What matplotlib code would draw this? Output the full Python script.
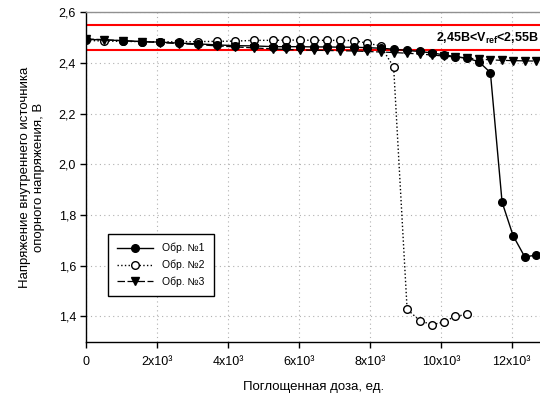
import matplotlib
matplotlib.use("Agg")
import matplotlib.pyplot as plt
from matplotlib.ticker import FixedLocator

plt.rcParams['font.family'] = ['Liberation Sans', 'DejaVu Sans']
plt.rcParams['mathtext.fontset'] = 'custom'
plt.rcParams['mathtext.rm'] = 'Liberation Sans'
plt.rcParams['mathtext.bf'] = 'Liberation Sans:bold'

# Dose grid (units)
dose = [0, 500, 1030, 1560, 2080, 2620, 3150, 3680, 4200, 4740, 5270, 5640,
        6040, 6410, 6790, 7160, 7540, 7920, 8300, 8670, 9050, 9410, 9760,
        10080, 10410, 10750, 11070, 11400, 11730, 12040, 12370, 12700]

# Sample 1 (no point at 500)
dose1 = [0, 1030, 1560, 2080, 2620, 3150, 3680, 4200, 4740, 5270, 5640,
         6040, 6410, 6790, 7160, 7540, 7920, 8300, 8670, 9050, 9410, 9760,
         10080, 10410, 10750, 11070, 11400, 11730, 12040, 12370, 12700]
v1 = [2.494, 2.489, 2.485, 2.483, 2.479, 2.476, 2.472, 2.469, 2.468, 2.465, 2.465,
      2.465, 2.464, 2.464, 2.463, 2.463, 2.461, 2.459, 2.455, 2.450, 2.446, 2.440,
      2.433, 2.426, 2.419, 2.406, 2.363, 1.851, 1.719, 1.635, 1.642]

# Sample 2
dose2 = [0, 500, 1030, 1560, 2080, 2620, 3150, 3680, 4200, 4740, 5270, 5640,
         6040, 6410, 6790, 7160, 7540, 7920, 8300, 8670, 9050, 9410, 9760,
         10080, 10410, 10750]
v2 = [2.490, 2.487, 2.486, 2.485, 2.484, 2.484, 2.485, 2.486, 2.487, 2.490, 2.490, 2.491,
      2.491, 2.490, 2.490, 2.490, 2.489, 2.479, 2.468, 2.385, 1.428, 1.383, 1.367,
      1.378, 1.400, 1.408]

# Sample 3
v3 = [2.495, 2.493, 2.488, 2.485, 2.481, 2.477, 2.473, 2.468, 2.464, 2.460, 2.456, 2.454,
      2.452, 2.451, 2.450, 2.449, 2.448, 2.446, 2.444, 2.442, 2.439, 2.436, 2.432,
      2.428, 2.424, 2.420, 2.416, 2.413, 2.411, 2.410, 2.409, 2.408]

labels = ['Обр. №1', 'Обр. №2', 'Обр. №3']
limits = [2.45, 2.55]
xticks = [0, 2000, 4000, 6000, 8000, 10000, 12000]
xticklabels = ['0', '2x10³', '4x10³', '6x10³', '8x10³', '10x10³', '12x10³']
yticks = [1.4, 1.6, 1.8, 2.0, 2.2, 2.4, 2.6]
yticklabels = ['1,4', '1,6', '1,8', '2,0', '2,2', '2,4', '2,6']

fig = plt.figure(figsize=(5.4, 3.99), dpi=100)
ax = fig.add_axes([0.16, 0.1436, 0.84, 0.8251])

for y in limits:
    ax.axhline(y, color='#ff0000', lw=1.5, zorder=2)

ax.plot(dose2, v2, ls=':', color='black', lw=1, marker='o', ms=5.5,
        mfc='white', mec='black', mew=1, label=labels[1], zorder=3)
ax.plot(dose, v3, ls=(0, (6, 2)), color='black', lw=0.9, marker='v', ms=6,
        mfc='black', mec='black', label=labels[2], zorder=4)
ax.plot(dose1, v1, ls='-', color='black', lw=1, marker='o', ms=5.5,
        mfc='black', mec='black', label=labels[0], zorder=5)

ax.set_xlim(0, 12800)
ax.set_ylim(1.3, 2.6)
ax.xaxis.set_major_locator(FixedLocator(xticks))
ax.yaxis.set_major_locator(FixedLocator(yticks))
ax.set_xticklabels(xticklabels, fontsize=9)
ax.set_yticklabels(yticklabels, fontsize=9)
ax.tick_params(direction='out', length=4, width=1, color='black')
ax.tick_params(axis='x', pad=6)
ax.grid(True, ls=(0, (1, 3)), color='#b0b0b0', lw=0.8)
ax.set_axisbelow(True)

ax.spines['right'].set_visible(False)
ax.spines['top'].set_color('#909090')
ax.spines['top'].set_linewidth(1.0)
ax.spines['left'].set_linewidth(1.0)
ax.spines['bottom'].set_linewidth(1.0)

ax.set_xlabel('Поглощенная доза, ед.', fontsize=9.5, labelpad=10)
ax.set_ylabel('Напряжение внутреннего источника\nопорного напряжения, В',
              fontsize=9.5, labelpad=10)

ax.text(0.997, 0.92, r'2,45В<V$_{\mathbf{ref}}$<2,55В', transform=ax.transAxes,
        ha='right', va='center', fontsize=9, fontweight='bold', zorder=6)

handles, labs = ax.get_legend_handles_labels()
h = [handles[labs.index(l)] for l in labels]
leg = ax.legend(h, labels, loc='lower left', bbox_to_anchor=(0.047, 0.138),
                borderaxespad=0, fontsize=7.5, frameon=True, fancybox=False,
                edgecolor='black', handlelength=3.4, handletextpad=0.9,
                labelspacing=0.6, borderpad=0.9, framealpha=1)
leg.get_frame().set_linewidth(1.0)
leg.set_zorder(10)

fig.savefig('out.png', dpi=100)
